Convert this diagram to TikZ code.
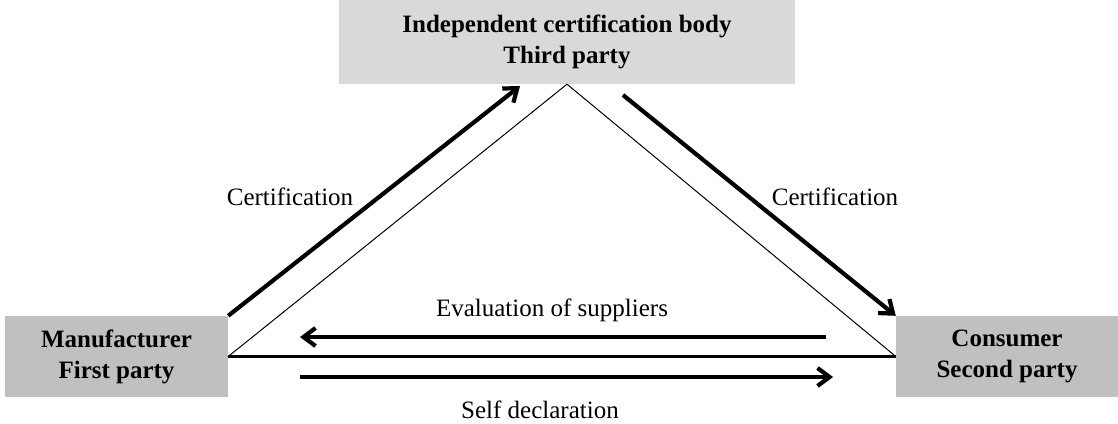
\documentclass[tikz,border=0pt]{standalone}
\usepackage{fontspec}
\setmainfont{Liberation Serif}
\usetikzlibrary{arrows.meta}
\definecolor{boxgray}{RGB}{192,192,192}
\definecolor{topgray}{RGB}{217,217,217}
\begin{document}
\begin{tikzpicture}[x=1pt,y=-1pt,
  party/.style={fill=boxgray, draw=none, inner sep=0pt, align=center,
    font=\fontsize{25}{31}\selectfont\bfseries},
  lbl/.style={inner sep=0pt, font=\fontsize{25}{29}\selectfont},
  tri/.style={line width=1pt},
  base/.style={line width=2.2pt},
  flow/.style={line width=4.2pt, -{Straight Barb[length=12pt,width=18pt]}}]
\useasboundingbox (0,0) rectangle (1118,423);

% the three parties
\node[party, fill=topgray, minimum width=456pt, minimum height=84pt] (cb) at (567,42)
  {Independent certification body\\Third party};
\node[party, minimum width=223pt, minimum height=81pt] (mfr) at (116.5,356.5)
  {Manufacturer\\First party};
\node[party, minimum width=222pt, minimum height=81pt] (cons) at (1007,356.5)
  {Consumer\\Second party};

% triangle between the parties
\draw[tri] (mfr.east) -- (cb.south) -- (cons.west);
\draw[base] (mfr.east) -- (cons.west);

% flow arrows
\coordinate (c1tip) at (520,86);
\coordinate (c2tail) at (623,95);
\coordinate (evtail) at (826,337);
\coordinate (evtip) at (300,337);
\coordinate (sdtail) at (300,377);
\coordinate (sdtip) at (833,377);

\draw[flow] (mfr.north east) -- (c1tip);
\draw[flow] (c2tail) -- (cons.north west);
\draw[flow] (evtail) -- (evtip);
\draw[flow] (sdtail) -- (sdtip);

% labels
\node[lbl] (l1) at (290,197) {Certification};
\node[lbl] (l2) at (835,197) {Certification};
\node[lbl] (l3) at (552,310) {Evaluation of suppliers};
\node[lbl] (l4) at (540,410) {Self declaration};
\end{tikzpicture}
\end{document}
